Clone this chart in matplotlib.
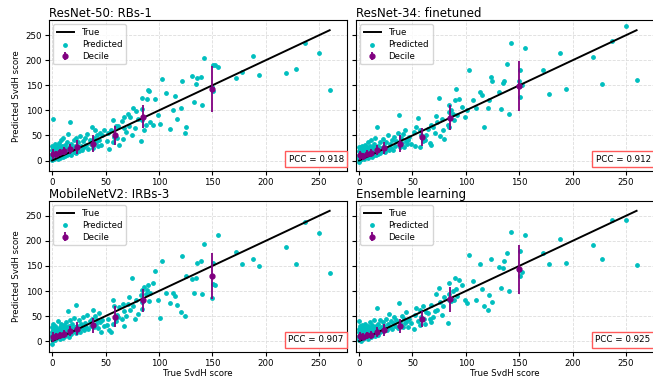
import matplotlib
matplotlib.use("Agg")
import matplotlib.pyplot as plt

titles = ["ResNet-50: RBs-1", "ResNet-34: finetuned", "MobileNetV2: IRBs-3", "Ensemble learning"]
pccs = [0.918, 0.912, 0.907, 0.925]

# true SvdH scores (shared test set)
true_low = [0,0,0,0,0,0,1,1,1,1,1,2,2,2,2,3,3,3,3,4,4,4,5,5,5,6,6,6,7,7,7,8,8,8,9,9,
            10,10,10,11,11,12,12,13,13,14,14,15,15,16,16,17,17,18,18,19,20,20,21,22,22,23,
            24,25,26,27,28,29,30,31,32,33,34,35,36,37,38,39,40,41,42,43,44,45]
true_mid = [46,47,49,51,52,53,55,57,57,58,60,61,62,63,65,66,67,67,69,71,72,73,75,76,78,
            79,80,83,84,84,84,86,88,89,90,91,92,94,96,99]
true_high = [101,103,107,110,113,115,117,121,122,124,125,131,133,135,136,139,140,142,150,
             151,151,153,155,172,178,188,194,219,228,237,250,260]
true_all = true_low + true_mid + true_high

# predicted scores per model
pred_resnet50 = (
    [14,5,22,10,30,2, 82,17,8,25,12, 3,19,28,11, 15,6,33,21, 9,24,16, 12,30,4, 20,8,35,
     14,26,6, 22,11,40, 17,30, 8,25,44, 20,13, 31,9, 24,16, 37,11, 19,52, 28,14, 76,22,
     33,12, 26, 18,40, 30, 15,45, 27, 36,20,48,29,22,38,27,44,31,52,24,40,33,67,26,45,60,
     36,50,30,41,55]
    + [31,50,60,39,54,24,60,37,80,47,68,44,68,32,78,42,64,87,57,92,68,87,50,104,65,98,83,
       39,102,124,80,60,70,123,140,138,76,71,122,90]
    + [72,162,134,63,100,128,82,105,158,55,67,169,117,152,164,167,110,205,147,138,190,
       191,186,164,176,208,170,174,182,235,215,140])
pred_resnet34 = (
    [12,3,20,8,27,-2, 15,6,24,10,1, 18,9,28,4, 13,22,5,30, 8,19,14, 25,11,3, 16,32,7,
     21,10,27, 13,37,6, 24,15, 9,30,18, 40,14, 22,8, 27,15, 12,33, 20,45, 26,11, 66,18,
     30,14, 22, 37,16, 25, 43,19, 29, 17,36,24,50,21,33,26,40,22,47,30,38,55,91,28,44,35,
     52,27,60,39,33]
    + [40,47,34,57,29,66,84,27,60,50,38,45,41,50,62,35,31,70,67,55,88,77,124,48,82,60,42,
       70,97,67,110,100,92,80,120,143,90,122,107,87]
    + [100,181,120,105,136,130,66,104,120,167,159,136,102,154,158,192,92,235,158,126,181,
       150,225,180,132,214,143,206,152,239,269,160])
pred_mobilenet = (
    [10,-5,18,4,28,13, 7,22,2,15,35, 12,25,5,18, 9,20,30,3, 16,6,26, 11,40,19, 8,23,14,
     29,5,17, 12,24,35, 18,9, 27,14,6, 21,32, 10,25, 17,38, 13,28, 22,60, 9,31, 19,42,
     26,14, 35, 20,47, 28, 72,16, 31, 23,42,19,35,27,48,22,37,29,52,25,40,31,45,62,28,50,
     35,43,26,56,38]
    + [19,42,30,32,45,22,19,35,82,70,40,52,48,68,45,75,60,30,50,75,88,62,126,70,45,82,55,
       93,103,78,65,108,95,102,112,80,96,115,140,82]
    + [47,160,96,76,96,91,72,58,170,50,130,124,97,126,155,160,94,194,87,114,155,111,211,
       178,154,164,150,187,153,238,216,136])
pred_ensemble = (
    [11,2,19,7,25,40, 14,5,22,9,30, 17,1,12,26, 8,20,14,32, 10,23,4, 16,28,7, 12,21,35,
     9,18,25, 15,30,5, 20,11, 26,13,38, 17,8, 23,33, 14,28, 20,42, 11,25, 30,17, 66,21,
     13,35, 24, 18,43, 29, 20,38, 31, 25,44,22,34,55,28,40,24,36,48,30,42,27,77,38,33,50,
     29,45,37,58,40]
    + [29,44,36,25,52,67,40,62,33,48,70,44,35,59,56,45,72,38,49,60,95,62,107,78,52,70,88,
       37,82,95,115,80,100,83,125,105,90,122,112,82]
    + [77,172,120,82,154,104,70,62,93,163,78,147,106,145,160,176,100,218,142,129,180,137,
       212,175,154,203,156,192,164,242,242,152])
preds = [pred_resnet50, pred_resnet34, pred_mobilenet, pred_ensemble]

# decile summary (mean +- std of prediction)
decile_x = [1, 3.5, 7, 11.5, 16.5, 23, 38, 58.5, 85.5, 150]
decile_y = [[14, 13, 17, 19, 24, 27, 34, 50, 87, 143],
            [11, 9, 14, 15, 21, 25, 34, 47, 85, 149],
            [9, 10, 12, 14, 20, 25, 32, 49, 82, 130],
            [10, 9, 12, 13, 19, 22, 31, 45, 84, 143]]
decile_err = [[10, 7, 7, 8, 10, 13, 16, 19, 23, 46],
              [9, 7, 7, 8, 10, 12, 16, 18, 25, 50],
              [10, 7, 7, 8, 10, 13, 15, 21, 23, 46],
              [9, 7, 7, 8, 10, 12, 14, 16, 25, 48]]

fig = plt.figure(figsize=(6.53, 3.81), dpi=100)
positions = [[0.075, 0.551, 0.456, 0.396], [0.545, 0.551, 0.456, 0.396],
             [0.075, 0.077, 0.456, 0.396], [0.545, 0.077, 0.456, 0.396]]

for i in range(4):
    ax = fig.add_axes(positions[i])
    ax.grid(True, color="#dddddd", linestyle="--", linewidth=0.6)
    ax.set_axisbelow(True)
    ax.plot([0, 260], [0, 260], color="black", linewidth=1.4, label="True", zorder=3)
    ax.scatter(true_all, preds[i], s=6, color="c", label="Predicted", zorder=2)
    ax.errorbar(decile_x, decile_y[i], yerr=decile_err[i], fmt="o", color="purple",
                markersize=3.5, elinewidth=1.3, label="Decile", zorder=4)
    ax.set_xlim(-3, 276)
    ax.set_ylim(-21, 280)
    ax.set_xticks([0, 50, 100, 150, 200, 250])
    ax.set_yticks([0, 50, 100, 150, 200, 250])
    ax.tick_params(labelsize=6.2, length=3, pad=2)
    ax.set_title(titles[i], loc="left", fontsize=8.5, pad=2)
    if i % 2 == 0:
        ax.set_ylabel("Predicted SvdH score", fontsize=6.2, labelpad=3)
    else:
        ax.set_yticklabels([])
    if i >= 2:
        ax.set_xlabel("True SvdH score", fontsize=6.2, labelpad=1)
    ax.legend(loc="upper left", fontsize=6.2, handlelength=2, borderpad=0.4,
              labelspacing=0.35, handletextpad=0.9)
    ax.text(0.99, 0.05, "PCC = %.3f" % pccs[i], transform=ax.transAxes, ha="right",
            va="bottom", fontsize=6.3,
            bbox=dict(facecolor="white", edgecolor=(1, 0.35, 0.35), boxstyle="square,pad=0.4"))

fig.savefig("out.png")
